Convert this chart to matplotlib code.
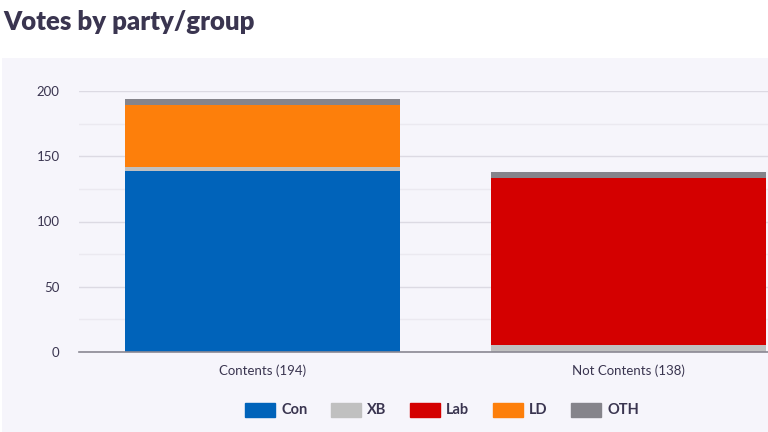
import matplotlib.pyplot as plt
from matplotlib.patches import Rectangle
from matplotlib.ticker import MultipleLocator

categories = ['Contents (194)', 'Not Contents (138)']
parties = ['Con', 'XB', 'Lab', 'LD', 'OTH']
colors = ['#0063ba', '#c0c0c0', '#d40000', '#fd7f0b', '#85848b']
# stacking order from bottom to top
con = [139, 0]
xb = [3, 5]
lab = [0, 128]
ld = [47, 0]
oth = [5, 5]
stack = [('Con', con), ('XB', xb), ('Lab', lab), ('LD', ld), ('OTH', oth)]

text_col = '#3a3550'
bg = '#f6f5fb'

plt.rcParams['font.family'] = ['Lato', 'DejaVu Sans']

fig = plt.figure(figsize=(7.68, 4.32), dpi=100)
fig.patch.set_facecolor('white')
# lavender panel behind the chart
fig.patches.append(Rectangle((2 / 768, 0), 1, (432 - 58) / 432,
                             transform=fig.transFigure, facecolor=bg,
                             edgecolor='none', zorder=0))

fig.text(3 / 768, 1 - 22 / 432, 'Votes by party/group', fontsize=18.5,
         fontweight='heavy', color=text_col, va='center', ha='left')

ax = fig.add_axes([79 / 768, 80 / 432, (812 - 79) / 768, 261 / 432])
ax.set_facecolor(bg)
ax.set_zorder(1)

x = range(len(categories))
bottom = [0] * len(categories)
for name, vals in stack:
    c = colors[parties.index(name)]
    ax.bar(x, vals, bottom=bottom, width=0.75, color=c, zorder=3)
    bottom = [b + v for b, v in zip(bottom, vals)]

ax.set_xlim(-0.5, 1.5)
ax.set_ylim(0, 200)
ax.yaxis.set_major_locator(MultipleLocator(50))
ax.yaxis.set_minor_locator(MultipleLocator(25))
ax.grid(axis='y', which='major', color='#dcdae3', linewidth=1, zorder=0)
ax.grid(axis='y', which='minor', color='#ebe9f0', linewidth=1, zorder=0)
for s in ['top', 'right', 'left']:
    ax.spines[s].set_visible(False)
ax.spines['bottom'].set_color('#8a8893')
ax.spines['bottom'].set_linewidth(1.2)
ax.spines['bottom'].set_zorder(4)

ax.set_xticks(list(x))
ax.set_xticklabels(categories)
ax.tick_params(axis='x', length=0, pad=9, labelsize=9.5, labelcolor=text_col)
ax.tick_params(axis='y', which='both', length=0, pad=14, labelsize=9.5,
               labelcolor=text_col)

handles = [Rectangle((0, 0), 1, 1, color=c) for c in colors]
leg = fig.legend(handles, parties, loc='center', bbox_to_anchor=(442 / 768, 1 - 410 / 432),
                 ncol=5, frameon=False, handlelength=2.05, handleheight=1.1,
                 columnspacing=1.6, handletextpad=0.45, fontsize=10.5)
for t in leg.get_texts():
    t.set_color(text_col)
    t.set_fontweight('bold')

fig.savefig('out.png', dpi=100)
